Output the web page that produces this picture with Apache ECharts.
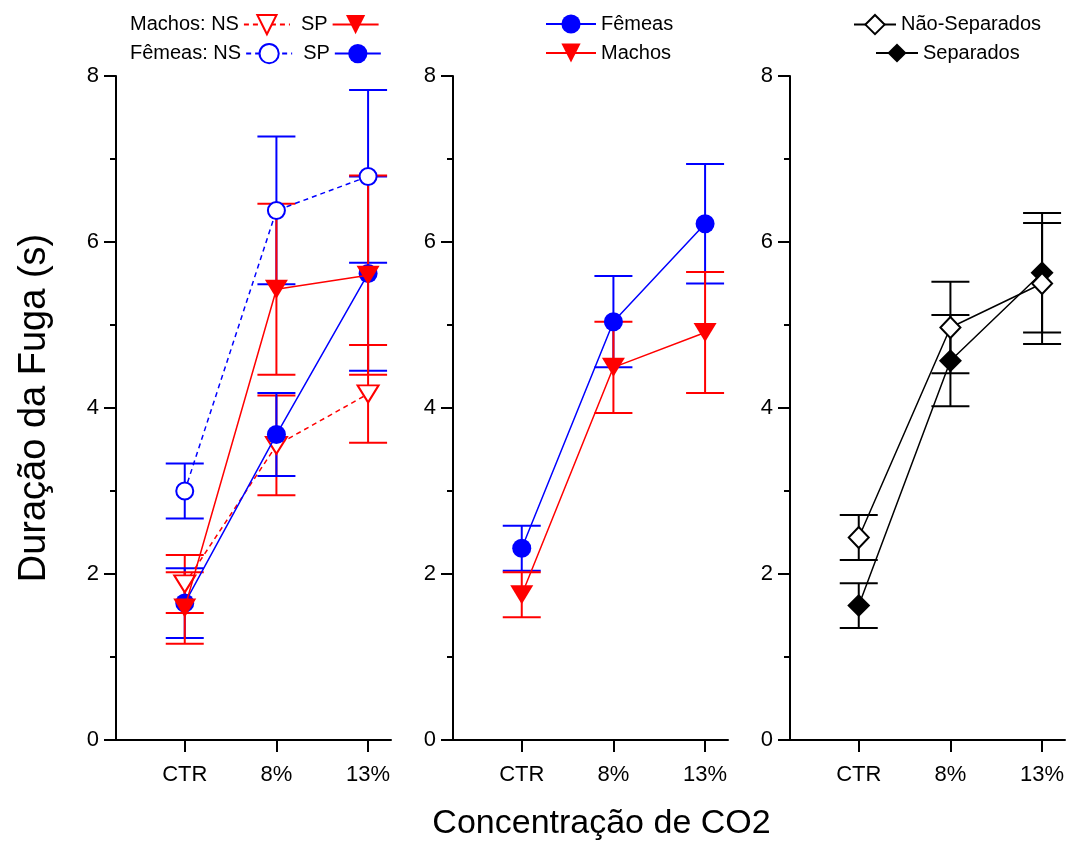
<!DOCTYPE html>
<html>
<head>
<meta charset="utf-8">
<script src="https://cdn.jsdelivr.net/npm/echarts@6/dist/echarts.min.js"></script>
<style>
  html, body { margin: 0; padding: 0; background: #fff; }
  #chart { width: 1070px; height: 844px; }
</style>
</head>
<body>
<div id="chart"></div>
<script>
  // categorias do eixo x
  var cats = ['CTR', '8%', '13%'];

  // painel 1: sexo x separação (média e erro)
  var machosNS = [1.88, 3.55, 4.17];
  var machosNSErr = [0.35, 0.60, 0.59];
  var machosSP = [1.59, 5.43, 5.60];
  var machosSPErr = [0.43, 1.03, 1.20];
  var femeasNS = [3.00, 6.38, 6.79];
  var femeasNSErr = [0.33, 0.89, 1.04];
  var femeasSP = [1.65, 3.68, 5.62];
  var femeasSPErr = [0.42, 0.50, 1.17];

  // painel 2: sexo
  var femeas = [2.31, 5.04, 6.22];
  var femeasErr = [0.27, 0.55, 0.72];
  var machos = [1.75, 4.49, 4.91];
  var machosErr = [0.27, 0.55, 0.73];

  // painel 3: separação
  var naoSep = [2.44, 4.97, 5.50];
  var naoSepErr = [0.27, 0.55, 0.73];
  var sep = [1.62, 4.57, 5.63];
  var sepErr = [0.27, 0.55, 0.72];

  var RED = '#ff0000';
  var BLUE = '#0000ff';
  var BLACK = '#000000';
  var FONT = 'Liberation Sans, Arial, sans-serif';

  function toPoints(values) {
    var out = [];
    for (var i = 0; i < values.length; i++) {
      out.push([i + 1, values[i]]);
    }
    return out;
  }

  function lineSeries(name, values, axis, color, opts) {
    return {
      name: name,
      type: 'line',
      xAxisIndex: axis,
      yAxisIndex: axis,
      z: opts.z,
      data: toPoints(values),
      symbol: opts.symbol,
      symbolSize: opts.size,
      symbolRotate: opts.rotate || 0,
      showAllSymbol: true,
      lineStyle: {
        color: color,
        width: 1.5,
        type: opts.dashed ? [5, 4] : 'solid'
      },
      itemStyle: opts.open
        ? { color: '#fff', borderColor: color, borderWidth: 2 }
        : { color: color, borderWidth: 0 },
      emphasis: { disabled: true }
    };
  }

  function errSeries(values, errs, axis, color, z) {
    var data = [];
    for (var i = 0; i < values.length; i++) {
      data.push([i + 1, values[i] - errs[i], values[i] + errs[i]]);
    }
    return {
      type: 'custom',
      xAxisIndex: axis,
      yAxisIndex: axis,
      z: z,
      silent: true,
      data: data,
      encode: { x: 0, y: [1, 2] },
      renderItem: function (params, api) {
        var x = api.value(0);
        var lo = api.coord([x, api.value(1)]);
        var hi = api.coord([x, api.value(2)]);
        var hw = 19;
        var style = { stroke: color, lineWidth: 2 };
        return {
          type: 'group',
          children: [
            { type: 'line', shape: { x1: lo[0], y1: hi[1], x2: lo[0], y2: lo[1] }, style: style },
            { type: 'line', shape: { x1: lo[0] - hw, y1: hi[1], x2: lo[0] + hw, y2: hi[1] }, style: style },
            { type: 'line', shape: { x1: lo[0] - hw, y1: lo[1], x2: lo[0] + hw, y2: lo[1] }, style: style }
          ]
        };
      }
    };
  }

  var gridLefts = [116, 453, 790];
  var grids = [];
  var xAxes = [];
  var yAxes = [];
  for (var g = 0; g < 3; g++) {
    grids.push({ left: gridLefts[g], top: 76, width: 275, height: 664, outerBoundsMode: 'none', containLabel: false });
    xAxes.push({
      type: 'value',
      gridIndex: g,
      min: 0.25,
      max: 3.25,
      axisLine: { show: true, onZero: false, lineStyle: { color: BLACK, width: 2 } },
      axisTick: { show: true, customValues: [1, 2, 3], length: 12, lineStyle: { color: BLACK, width: 2 } },
      axisLabel: {
        customValues: [1, 2, 3],
        formatter: function (v) { return cats[Math.round(v) - 1]; },
        color: BLACK, fontSize: 22, fontFamily: FONT, margin: 24
      },
      splitLine: { show: false }
    });
    yAxes.push({
      type: 'value',
      gridIndex: g,
      min: 0,
      max: 8,
      interval: 2,
      axisLine: { show: true, onZero: false, lineStyle: { color: BLACK, width: 2 } },
      axisTick: { show: true, length: 12, lineStyle: { color: BLACK, width: 2 } },
      minorTick: { show: true, splitNumber: 2, length: 6, lineStyle: { color: BLACK, width: 2 } },
      axisLabel: { color: BLACK, fontSize: 22, fontFamily: FONT, margin: 17 },
      splitLine: { show: false }
    });
  }

  yAxes[0].name = 'Duração da Fuga (s)';
  yAxes[0].nameLocation = 'middle';
  yAxes[0].nameGap = 62;
  yAxes[0].nameTextStyle = { color: BLACK, fontSize: 38, fontFamily: FONT };

  xAxes[1].name = 'Concentração de CO2';
  xAxes[1].nameLocation = 'middle';
  xAxes[1].nameGap = 67;
  xAxes[1].nameTextStyle = { color: BLACK, fontSize: 34, fontFamily: FONT, padding: [0, 0, 0, 22] };

  var triSize = [23, 19];
  var triOpen = [21, 17];

  var series = [
    // painel 1
    errSeries(machosNS, machosNSErr, 0, RED, 1),
    errSeries(femeasNS, femeasNSErr, 0, BLUE, 1),
    errSeries(femeasSP, femeasSPErr, 0, BLUE, 1),
    errSeries(machosSP, machosSPErr, 0, RED, 1),
    lineSeries('Machos: NS', machosNS, 0, RED, { symbol: 'triangle', size: triOpen, rotate: 180, open: true, dashed: true, z: 3 }),
    lineSeries('Fêmeas: NS', femeasNS, 0, BLUE, { symbol: 'circle', size: 17, open: true, dashed: true, z: 4 }),
    lineSeries('Fêmeas: SP', femeasSP, 0, BLUE, { symbol: 'circle', size: 19, z: 5 }),
    lineSeries('Machos: SP', machosSP, 0, RED, { symbol: 'triangle', size: triSize, rotate: 180, z: 6 }),
    // painel 2
    errSeries(femeas, femeasErr, 1, BLUE, 1),
    errSeries(machos, machosErr, 1, RED, 1),
    lineSeries('Fêmeas', femeas, 1, BLUE, { symbol: 'circle', size: 19, z: 3 }),
    lineSeries('Machos', machos, 1, RED, { symbol: 'triangle', size: triSize, rotate: 180, z: 4 }),
    // painel 3
    errSeries(naoSep, naoSepErr, 2, BLACK, 1),
    errSeries(sep, sepErr, 2, BLACK, 1),
    lineSeries('Não-Separados', naoSep, 2, BLACK, { symbol: 'diamond', size: [20, 21], open: true, z: 4 }),
    lineSeries('Separados', sep, 2, BLACK, { symbol: 'diamond', size: [23, 23], z: 3 })
  ];

  var legendText = { color: BLACK, fontSize: 20, fontFamily: FONT };

  function legend(names, left, top, width, extra) {
    var l = {
      data: names,
      left: left,
      top: top,
      padding: 0,
      itemWidth: width,
      itemHeight: 24,
      itemGap: 5,
      selectedMode: false,
      textStyle: legendText
    };
    for (var k in extra) l[k] = extra[k];
    return l;
  }

  var spFormatter = function (name) {
    return name.indexOf(': SP') > 0 ? 'SP' : name;
  };

  var myChart = echarts.init(document.getElementById('chart'), null, { renderer: 'canvas' });
  myChart.setOption({
    backgroundColor: '#fff',
    animation: false,
    textStyle: { fontFamily: FONT },
    grid: grids,
    xAxis: xAxes,
    yAxis: yAxes,
    legend: [
      legend(['Machos: NS', 'Machos: SP'], 130, 14, 46, { align: 'right', itemGap: 10, formatter: spFormatter }),
      legend(['Fêmeas: NS', 'Fêmeas: SP'], 130, 43, 46, { align: 'right', itemGap: 10, formatter: spFormatter }),
      legend(['Fêmeas'], 545, 14, 50, {}),
      legend(['Machos'], 545, 43, 50, {}),
      legend(['Não-Separados'], 853, 14, 42, {}),
      legend(['Separados'], 875, 43, 42, {})
    ],
    series: series
  });
</script>
</body>
</html>
